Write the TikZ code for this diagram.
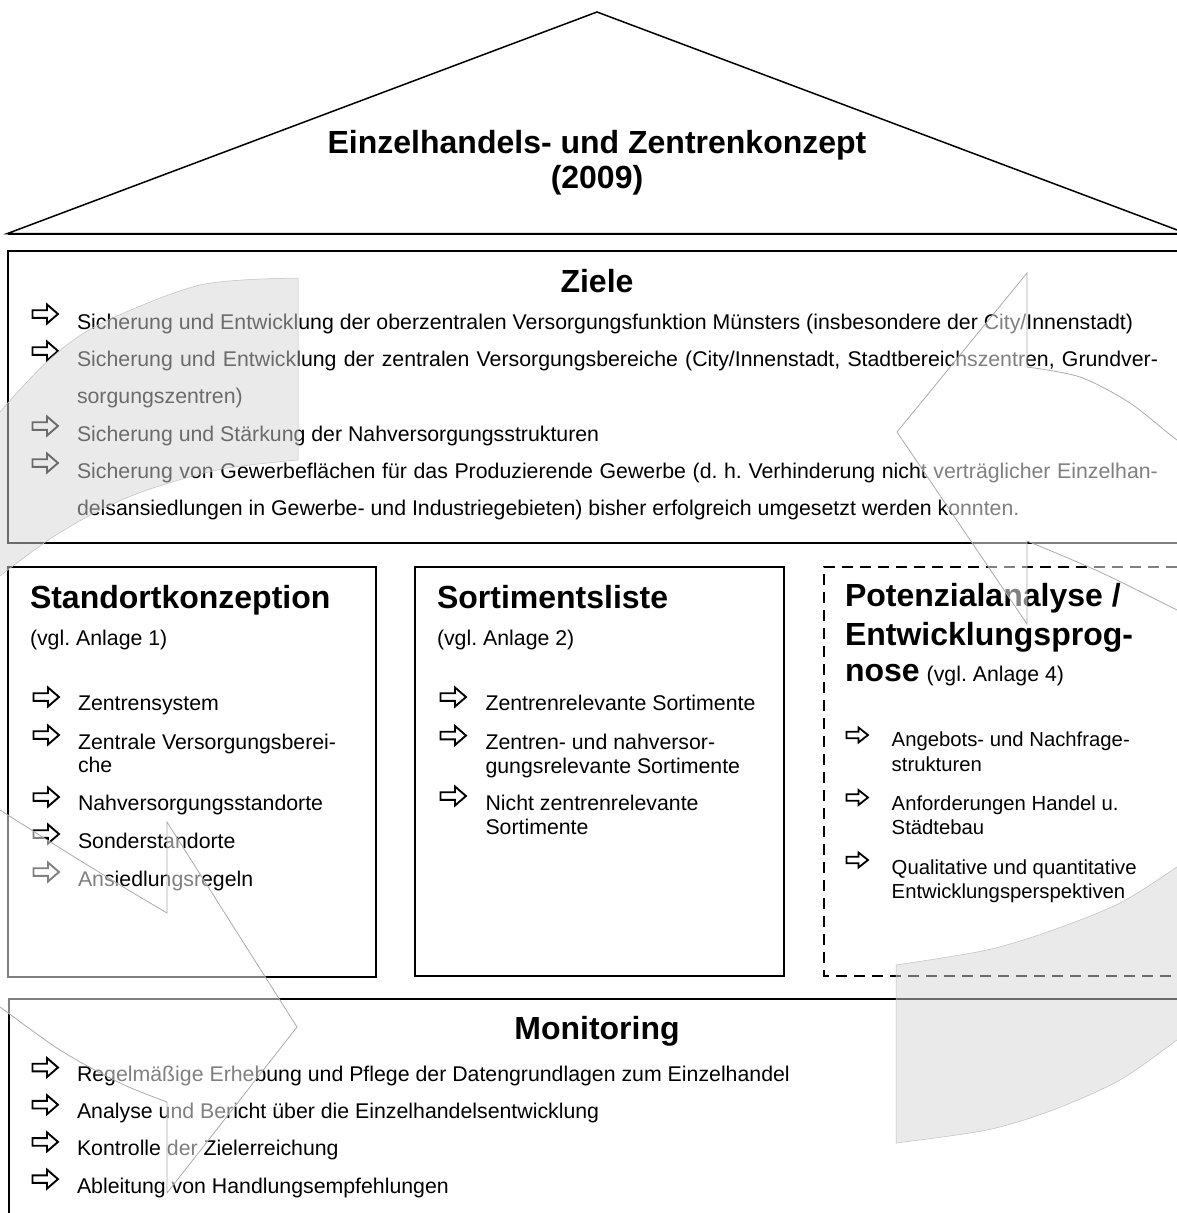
\documentclass[tikz,border=0pt]{standalone}
\usepackage{fontspec}
\setmainfont{Liberation Sans}
\frenchspacing
\newcommand\txtbody{\fontsize{21.3}{24}\selectfont}
\newcommand\txtsmall{\fontsize{20.3}{24}\selectfont}
\newcommand\txthead{\fontsize{32}{37}\selectfont\bfseries}
\tikzset{
  box/.style={draw=black, line width=1.8pt},
  lbl/.style={inner sep=0pt, outer sep=0pt, anchor=base west, font=\txtbody},
  plbl/.style={lbl, font=\txtsmall},
  head/.style={inner sep=0pt, outer sep=0pt, anchor=base west, font=\txthead},
  warrow/.pic={\draw[line width=1.9pt, fill=white, line join=miter, miter limit=10]
     (0.5,-3.8) -- (15,-3.8) -- (15,-9.5) -- (26,0) -- (15,9.5) -- (15,3.8) -- (0.5,3.8) -- cycle;},
  swarrow/.pic={\draw[line width=1.8pt, fill=white, line join=miter, miter limit=10]
     (0.5,-3.2) -- (12.5,-3.2) -- (12.5,-7.5) -- (22,0) -- (12.5,7.5) -- (12.5,3.2) -- (0.5,3.2) -- cycle;},
  wmhatch/.style={fill=black!16, fill opacity=0.5, draw=black!25, line width=0.5pt},
  wmwhite/.style={fill=white, fill opacity=0.5, draw=black!33, line width=0.8pt},
}
\begin{document}
\begin{tikzpicture}[x=1pt,y=-1pt]
\useasboundingbox (0,0) rectangle (1177,1213);
\fill[white] (0,0) rectangle (1177,1213);

% roof
\draw[line width=1.5pt, line join=miter] (7.5,233.5) -- (597,12) -- (1186.5,233.5) -- cycle;
\draw[line width=2pt] (7.5,233.5) -- (1186.5,233.5);
\node[inner sep=0pt, anchor=base, font=\txthead] (title1) at (597,153) {Einzelhandels- und Zentrenkonzept};
\node[inner sep=0pt, anchor=base, font=\txthead] (title2) at (597,188) {(2009)};

% Ziele
\draw[box] (8,251) rectangle (1195,543);
\node[head, anchor=base] (zielehead) at (597,292) {Ziele};
\pic at (32,314) {warrow};
\node[lbl] (z1) at (77,329) {Sicherung und Entwicklung der oberzentralen Versorgungsfunktion Münsters (insbesondere der City/Innenstadt)};
\pic at (32,351) {warrow};
\node[lbl] (z2) at (77,366) {\makebox[1081pt][s]{Sicherung und Entwicklung der zentralen Versorgungsbereiche (City/Innenstadt, Stadtbereichszentren, Grundver-}};
\node[lbl] (z3) at (77,403) {sorgungszentren)};
\pic at (32,426) {warrow};
\node[lbl] (z4) at (77,441) {Sicherung und Stärkung der Nahversorgungsstrukturen};
\pic at (32,463) {warrow};
\node[lbl] (z5) at (77,478) {\makebox[1081pt][s]{Sicherung von Gewerbeflächen für das Produzierende Gewerbe (d. h. Verhinderung nicht verträglicher Einzelhan-}};
\node[lbl] (z6) at (77,515) {delsansiedlungen in Gewerbe- und Industriegebieten) bisher erfolgreich umgesetzt werden konnten.};

% Standortkonzeption
\draw[box] (8,567) rectangle (376,977);
\node[head] (sh) at (30,608) {Standortkonzeption};
\node[lbl] (sv) at (30,645) {(vgl. Anlage 1)};
\pic at (33,697) {warrow};
\node[lbl] (s1) at (78,710.7) {Zentrensystem};
\pic at (33,735) {warrow};
\node[lbl] (s2) at (78,749) {Zentrale Versorgungsberei-};
\node[lbl] (s2b) at (78,772.5) {che};
\pic at (33,797) {warrow};
\node[lbl] (s3) at (78,810.7) {Nahversorgungsstandorte};
\pic at (33,834) {warrow};
\node[lbl] (s4) at (78,848) {Sonderstandorte};
\pic at (33,872) {warrow};
\node[lbl] (s5) at (78,886) {Ansiedlungsregeln};

% Sortimentsliste
\draw[box] (415,567) rectangle (784,976);
\node[head] (oh) at (437,608) {Sortimentsliste};
\node[lbl] (ov) at (437,645) {(vgl. Anlage 2)};
\pic at (440,697) {warrow};
\node[lbl] (o1) at (485.5,710.7) {Zentrenrelevante Sortimente};
\pic at (440,735.5) {warrow};
\node[lbl] (o2) at (485.5,749.5) {Zentren- und nahversor-};
\node[lbl] (o2b) at (485.5,773) {gungsrelevante Sortimente};
\pic at (440,796) {warrow};
\node[lbl] (o3) at (485.5,810) {Nicht zentrenrelevante};
\node[lbl] (o3b) at (485.5,834) {Sortimente};

% Potenzialanalyse
\draw[line width=1.8pt, dash pattern=on 11pt off 7pt] (1195,567) -- (824,567) -- (824,976) -- (1195,976);
\node[head] (ph1) at (845,606.7) {Potenzialanalyse /};
\node[head] (ph2) at (845,645) {Entwicklungsprog-};
\node[head] (ph3) at (845,681.7) {nose\hspace{7pt}{\mdseries\txtbody(vgl. Anlage 4)}};
\pic at (846,735) {swarrow};
\node[plbl] (p1) at (891.7,746.7) {Angebots- und Nachfrage-};
\node[plbl] (p1b) at (891.7,771) {strukturen};
\pic at (846,797.5) {swarrow};
\node[plbl] (p2) at (891.7,810) {Anforderungen Handel u.};
\node[plbl] (p2b) at (891.7,834.5) {Städtebau};
\pic at (846,860) {swarrow};
\node[plbl] (p3) at (891.7,874.5) {Qualitative und quantitative};
\node[plbl] (p3b) at (891.7,898.3) {Entwicklungsperspektiven};

% Monitoring
\draw[box] (9,999) rectangle (1195,1230);
\node[head, anchor=base] (mh) at (597,1039) {Monitoring};
\pic at (32,1067.5) {warrow};
\node[lbl] (m1) at (77,1081.5) {Regelmäßige Erhebung und Pflege der Datengrundlagen zum Einzelhandel};
\pic at (32,1104.7) {warrow};
\node[lbl] (m2) at (77,1118.7) {Analyse und Bericht über die Einzelhandelsentwicklung};
\pic at (32,1141.9) {warrow};
\node[lbl] (m3) at (77,1155.9) {Kontrolle der Zielerreichung};
\pic at (32,1179.1) {warrow};
\node[lbl] (m4) at (77,1193.1) {Ableitung von Handlungsempfehlungen};

% watermark (cycle arrows)
\path[wmhatch] plot[smooth] coordinates {(298,278) (200,285) (100,324) (50,359) (0,412) (-20,442)}
   -- (-20,595) -- plot[smooth] coordinates {(-20,595) (0,576) (50,539) (100,510) (150,489) (222,469) (298,460)} -- cycle;
\path[wmhatch] plot[smooth] coordinates {(896,965) (987,950) (1053,930) (1120,903) (1177,867) (1195,854)}
   -- (1195,1026) -- plot[smooth] coordinates {(1195,1026) (1177,1040) (1120,1080) (1053,1110) (987,1130) (896,1143)} -- cycle;
\path[wmwhite] (1027,273) -- (897,432) -- (1027,624) -- (1027,541)
   -- plot[smooth] coordinates {(1027,541) (1100,572) (1177,610) (1200,622)} -- (1200,452)
   -- plot[smooth] coordinates {(1200,452) (1177,440) (1130,403) (1080,377) (1027,367)} -- cycle;
\path[wmwhite] (297,1027) -- (167,1193) -- (167,1102)
   -- plot[smooth] coordinates {(167,1102) (120,1083) (60,1050) (0,1007) (-20,993)} -- (-20,797)
   -- plot[smooth] coordinates {(-20,797) (0,810) (60,848) (120,885) (167,913)} -- (167,822) -- cycle;
\end{tikzpicture}
\end{document}
